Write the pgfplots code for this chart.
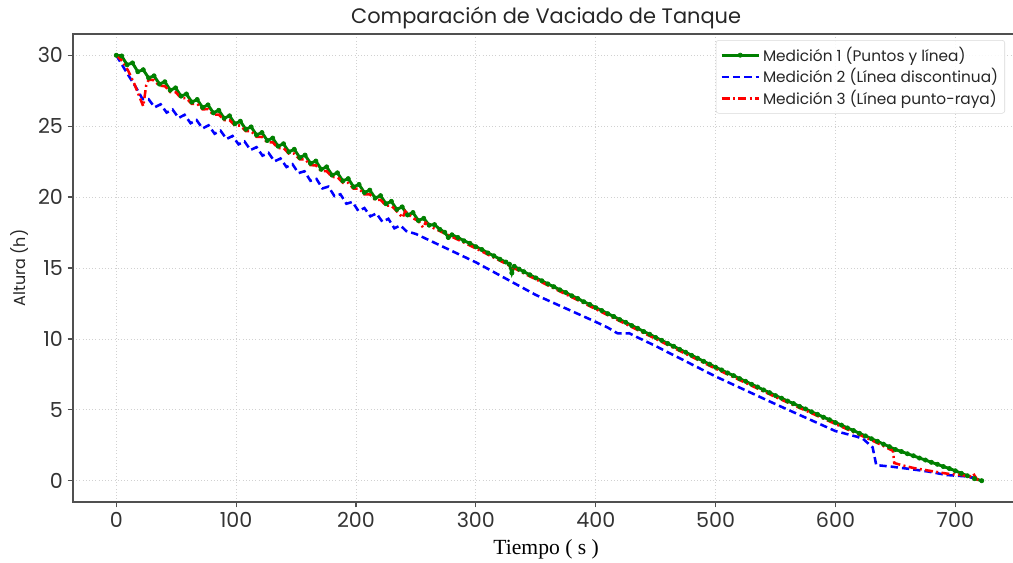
\documentclass[border=0pt]{standalone}
\usepackage{fontspec}
\setmainfont{Poppins}
\newfontfamily\seriffont{Liberation Serif}
\usepackage{pgfplots}
\pgfplotsset{compat=1.18}
\definecolor{mgreen}{RGB}{0,128,0}
\definecolor{mblue}{RGB}{0,0,255}
\definecolor{mred}{RGB}{255,0,0}
\definecolor{spine}{RGB}{80,80,80}
\begin{document}
\begin{tikzpicture}
\begin{axis}[
  at={(0,0)}, anchor=south west,
  scale only axis, width=714pt, height=351pt,
  xmin=-36.1, xmax=758.1, ymin=-1.5, ymax=31.5,
  xtick={0,100,...,700}, ytick={0,5,...,30},
  tick align=outside, tick pos=left,
  major tick length=4pt,
  every tick/.style={spine, line width=0.9pt},
  axis line style={spine, line width=1.1pt},
  grid=major, grid style={dotted, line width=0.6pt, black!18},
  /pgf/number format/assume math mode=true,
  tick label style={font=\fontsize{15.5}{16}\selectfont, text=black!80},
  every axis title shift=0pt,
  title={Comparación de Vaciado de Tanque},
  title style={at={(axis description cs:0.497,1.034)}, anchor=center, font=\fontsize{15.7}{17}\selectfont, text=black!85},
  xlabel={\seriffont Tiempo ( s )},
  xlabel style={at={(axis description cs:0.497,-0.1004)}, anchor=center, font=\fontsize{16.2}{18}\selectfont},
  ylabel={Altura (h)},
  ylabel style={at={(axis description cs:-0.0557,0.5)}, anchor=center, font=\fontsize{12}{13}\selectfont, text=black!85},
  legend style={at={(rel axis cs:0.979,0.987)}, anchor=north east, draw=black!15, rounded corners=2pt, fill=white, fill opacity=0.85, text opacity=1, font=\fontsize{11.5}{12}\selectfont, row sep=0pt, inner sep=3pt, text=black!85},
  legend cell align=left,
  legend image code/.code={\draw[mark repeat=2,mark phase=2,#1] plot coordinates {(0pt,0pt) (14pt,0pt) (28pt,0pt)};},
]
\addplot[mgreen, line width=2.2pt, mark=*, mark size=1.6pt, mark options={solid, fill=mgreen, line width=0.5pt}] coordinates {
(0,30.00) (4.5,29.95) (9,29.33) (13.5,29.46) (18,28.84) (22.5,28.98) (27,28.40) (31.5,28.55) (36,27.97) (40.5,28.13)
(45,27.54) (49.5,27.70) (54,27.12) (58.5,27.27) (63,26.70) (67.5,26.88) (72,26.32) (76.5,26.50) (81,25.94) (85.5,26.12)
(90,25.56) (94.5,25.73) (99,25.17) (103.5,25.35) (108,24.78) (112.5,24.95) (117,24.38) (121.5,24.55) (126,23.99) (130.5,24.16)
(135,23.59) (139.5,23.76) (144,23.19) (148.5,23.37) (153,22.79) (157.5,22.96) (162,22.38) (166.5,22.54) (171,21.96) (175.5,22.13)
(180,21.55) (184.5,21.71) (189,21.14) (193.5,21.30) (198,20.72) (202.5,20.89) (207,20.32) (211.5,20.49) (216,19.93) (220.5,20.10)
(225,19.53) (229.5,19.70) (234,19.13) (238.5,19.31) (243,18.74) (247.5,18.91) (252,18.35) (256.5,18.50) (261,18.02) (265.5,18.06)
(270,17.72) (274,17.52) (277,17.15) (280,17.34) (285,17.15) (290,16.92) (295,16.74) (300,16.50) (305,16.30) (310,16.06)
(315,15.86) (320,15.62) (325,15.42) (328,15.27) (330,14.65) (332,15.12) (336,14.92) (340,14.74) (345,14.52) (350,14.30)
(355,14.10) (360,13.88) (365,13.68) (370,13.46) (375,13.27) (380,13.04) (385,12.85) (390,12.62) (395,12.43) (400,12.20)
(405,12.00) (410,11.78) (415,11.58) (420,11.36) (425,11.17) (430,10.94) (435,10.75) (440,10.52) (445,10.33) (450,10.10)
(455,9.90) (460,9.68) (465,9.48) (470,9.26) (475,9.06) (480,8.84) (485,8.64) (490,8.42) (495,8.22) (500,8.00)
(505,7.81) (510,7.60) (515,7.41) (520,7.20) (525,7.01) (530,6.80) (535,6.61) (540,6.40) (545,6.21) (550,6.00)
(555,5.82) (560,5.62) (565,5.44) (570,5.24) (575,5.06) (580,4.86) (585,4.68) (590,4.48) (595,4.30) (600,4.10)
(605,3.92) (610,3.72) (615,3.54) (620,3.34) (625,3.16) (630,2.96) (635,2.78) (640,2.58) (645,2.40) (650,2.20)
(655,2.06) (660,1.90) (665,1.76) (670,1.60) (675,1.46) (680,1.30) (685,1.16) (690,1.00) (695,0.86) (700,0.70)
(705,0.52) (710,0.35) (716,0.15) (722,0.00)
};
\addlegendentry{Medición 1 (Puntos y línea)}
\addplot[mblue, line width=1.9pt, dash pattern=on 5.5pt off 3pt] coordinates {
(0,30.0) (5,29.3) (10,28.6) (16,27.8) (22,26.9) (27,26.90) (32,26.33) (37,26.54) (42,25.96) (47,26.17)
(52,25.58) (57,25.80) (62,25.21) (67,25.43) (72,24.84) (77,25.06) (82,24.47) (87,24.68) (92,24.10) (97,24.31)
(102,23.72) (107,23.92) (112,23.32) (117,23.52) (122,22.92) (127,23.12) (132,22.52) (137,22.72) (142,22.12) (147,22.32)
(152,21.69) (157,21.82) (162,21.15) (167,21.28) (172,20.61) (177,20.74) (182,20.07) (187,20.20) (192,19.53) (197,19.66)
(202,19.02) (207,19.23) (212,18.64) (217,18.85) (222,18.26) (227,18.47) (232,17.80) (237,18.00) (242,17.60) (250,17.40)
(260,17.0) (270,16.6) (280,16.2) (290,15.8) (300,15.4) (310,14.94) (320,14.48) (330,14.02) (340,13.56) (350,13.1)
(360,12.72) (370,12.34) (380,11.96) (390,11.58) (400,11.2) (410,10.8) (418,10.4) (422,10.38) (428,10.4) (435,10.1)
(450,9.5) (460,9.06) (470,8.64) (480,8.21) (490,7.78) (500,7.35) (510,6.96) (520,6.57) (530,6.18) (540,5.79)
(550,5.4) (560,5.02) (570,4.64) (580,4.26) (590,3.88) (600,3.5) (610,3.28) (618,3.1) (623,2.95) (631,2.35)
(634,1.1) (646,1.0) (660,0.85) (677,0.65) (693,0.4) (710,0.3) (715,0.2)
};
\addlegendentry{Medición 2 (Línea discontinua)}
\addplot[mred, line width=1.9pt, dash pattern=on 6pt off 2.5pt on 1.5pt off 2.5pt] coordinates {
(0,30.0) (5,29.6) (10,28.9) (15,28.0) (22.5,26.4) (25,27.9) (27,28.27) (31.5,28.25) (36,27.84) (40.5,27.83)
(45,27.41) (49.5,27.40) (54,26.99) (58.5,26.97) (63,26.57) (67.5,26.58) (72,26.19) (76.5,26.20) (81,25.81) (85.5,25.82)
(90,25.43) (94.5,25.43) (99,25.04) (103.5,25.05) (108,24.65) (112.5,24.65) (117,24.25) (121.5,24.25) (126,23.86) (130.5,23.86)
(135,23.46) (139.5,23.46) (144,23.06) (148.5,23.07) (153,22.66) (157.5,22.66) (162,22.25) (166.5,22.24) (171,21.83) (175.5,21.83)
(180,21.42) (184.5,21.41) (189,21.01) (193.5,21.00) (198,20.59) (202.5,20.59) (207,20.19) (211.5,20.19) (216,19.80) (220.5,19.80)
(225,19.40) (229.5,19.40) (234,19.00) (239,18.55) (241,19.00) (247.5,18.51) (252,18.32) (256,17.85) (258,18.20) (265,17.80)
(270,17.60) (280,17.20) (290,16.80) (300,16.38) (310,15.95) (320,15.52) (330,15.08) (340,14.62) (350,14.20) (360,13.78)
(370,13.36) (380,12.94) (390,12.52) (400,12.10) (410,11.68) (420,11.26) (430,10.84) (440,10.42) (450,10.00) (460,9.58)
(470,9.16) (480,8.74) (490,8.32) (500,7.90) (510,7.50) (520,7.10) (530,6.70) (540,6.30) (550,5.90) (560,5.52)
(570,5.14) (580,4.76) (590,4.38) (600,4.00) (610,3.62) (620,3.24) (630,2.86) (640,2.45) (648,2.10) (649,1.25)
(655,1.10) (665,0.90) (682,0.65) (693,0.50) (705,0.40) (712,0.30) (715,0.50) (718,0.10) (720,0.05)
};
\addlegendentry{Medición 3 (Línea punto-raya)}
\end{axis}
\pgfresetboundingbox
\useasboundingbox (-54.75pt,-45.75pt) rectangle (705pt,376.5pt);
\end{tikzpicture}
\end{document}
